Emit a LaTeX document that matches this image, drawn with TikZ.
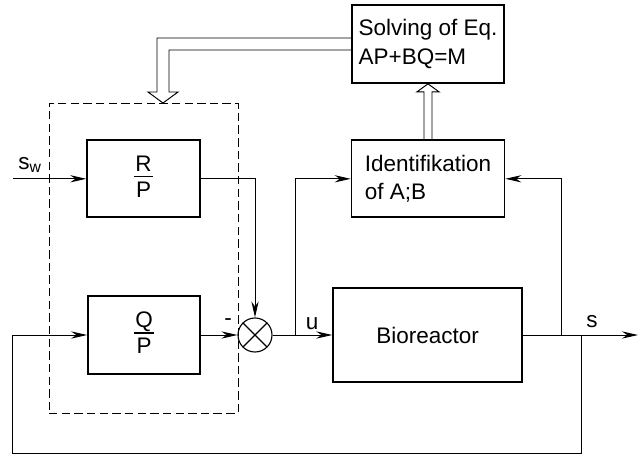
\documentclass[tikz,border=0pt]{standalone}
\usepackage{fontspec}
\setmainfont{Liberation Sans}
\usetikzlibrary{arrows.meta,calc}

\setlength{\arrayrulewidth}{1pt}
\newcommand{\bruch}[2]{%
    \begin{tabular}{@{\hspace{1pt}}c@{\hspace{1pt}}}#1\\[-3pt]\hline #2\end{tabular}}

\begin{document}
\begin{tikzpicture}[
    >={Stealth[length=4mm,width=1.8mm]},
    font=\fontsize{16}{20}\selectfont,
    box/.style={
        draw,
        line width=1.2pt,
        inner sep=0pt,
        align=left
    },
    block/.style={
        box,
        minimum width=3.8cm,
        minimum height=1.925cm
    },
    summer/.style={
        circle,
        draw,
        line width=0.8pt,
        minimum size=0.85cm,
        inner sep=0pt,
        path picture={
            \draw[line width=0.8pt]
            (path picture bounding box.north west)
            -- (path picture bounding box.south east)
            (path picture bounding box.north east)
            -- (path picture bounding box.south west);
        }
    },
    arrow/.style={
        ->,
        line width=0.7pt
    },
    line/.style={
        line width=0.7pt
    },
    fat/.style={
        line width=0.7pt,
        line join=miter
    }]

\useasboundingbox (0,0) rectangle (16.025,-11.4);

% Regler (gestrichelt)
\node[
    draw,
    line width=0.7pt,
    dash pattern=on 6pt off 3pt,
    minimum width=4.725cm,
    minimum height=7.75cm
] (ctrl) at (3.5875,-6.45) {};

\node[box, minimum width=2.825cm, minimum height=1.925cm] (rp) at (3.59,-4.47)
{\bruch{R}{P}};

\node[box, minimum width=2.8cm, minimum height=1.95cm] (qp) at (3.6,-8.375)
{\bruch{Q}{P}};

\node[summer] (sum) at (6.375,-8.375) {};


% Obere Bloecke
\node[block, minimum height=1.95cm] (solve) at (10.7,-1.1)
{Solving of Eq.\\
AP+BQ=M};

\node[block, minimum width=3.825cm] (ident) at (10.7,-4.47)
{Identifikation\\
of A;B};


% Strecke
\node[box, minimum width=4.725cm, minimum height=2.35cm] (bio) at (10.69,-8.375)
{Bioreactor};


% Hilfspunkte
\coordinate (swin) at (0.325,-4.47);
\coordinate (ub) at (7.375,-8.375);
\coordinate (idk) at (14.025,-8.375);
\coordinate (fbk) at (14.525,-8.375);
\coordinate (out) at (15.95,-8.375);
\coordinate (lp) at (0.3,-11.325);
\coordinate (fb) at (4.075,-2.575);


% Beschriftungen
\node (swlabel) at (0.75,-4.12) {s\textsubscript{w}};
\node (minus) at (5.7,-8.05) {-};
\node (ulabel) at (7.8,-8.1) {u};
\node (slabel) at (14.8,-8.05) {s};


% Pfeile
\draw[arrow] (swin) -- (rp.west);
\draw[arrow] (rp.east) -| (sum.north);
\draw[arrow] (qp.east) -- (sum.west);
\draw[line] (sum.east) -- (ub);
\draw[arrow] (ub) -- (bio.west);
\draw[arrow] (ub) |- (ident.west);
\draw[arrow] (bio.east) -- (out);
\draw[arrow] (idk) |- (ident.east);
\draw[arrow] (fbk) |- (lp) |- (qp.west);


% Breite Pfeile
\draw[fat]
($(solve.west)+(0,0.15)$) -| ($(fb)+(-0.15,0.275)$)
-- ++(-0.225,0) -- (fb) -- ++(0.375,0.275)
-- ++(-0.225,0) |- ($(solve.west)+(0,-0.15)$);

\draw[fat]
($(ident.north)+(-0.1,0)$) -- ($(solve.south)+(-0.1,-0.2)$)
-- ++(-0.175,0) -- (solve.south) -- ++(0.275,-0.2)
-- ++(-0.175,0) -- ($(ident.north)+(0.1,0)$);

\end{tikzpicture}
\end{document}
